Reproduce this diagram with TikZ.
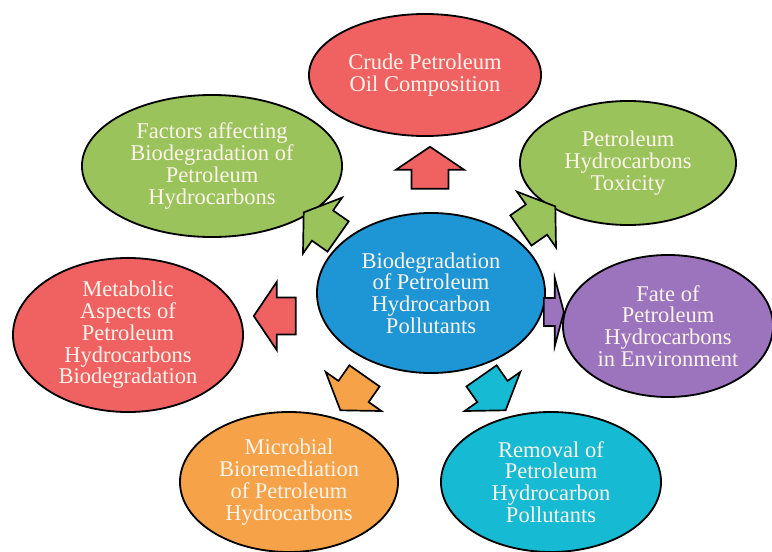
\documentclass[tikz,border=0pt]{standalone}
\usepackage{fontspec}
\setmainfont{Liberation Serif}
\usetikzlibrary{shapes.geometric,shapes.arrows}

\definecolor{bubred}{RGB}{240,98,98}
\definecolor{bubgreen}{RGB}{155,195,92}
\definecolor{bubblue}{RGB}{30,150,214}
\definecolor{bubpurple}{RGB}{156,116,190}
\definecolor{buborange}{RGB}{246,162,72}
\definecolor{bubteal}{RGB}{22,186,210}
\definecolor{txtcol}{RGB}{252,244,234}

\begin{document}
\begin{tikzpicture}[x=0.025cm,y=-0.025cm,
    bubble/.style={ellipse,draw=black,line width=1.3pt,inner sep=0pt,align=center,
        text=txtcol,font=\fontsize{16}{15.5}\selectfont},
    blockarr/.style={single arrow,draw=black,line width=1.2pt,inner xsep=0pt,inner ysep=0.44cm,
        minimum height=1.05cm,minimum width=0pt,single arrow head extend=0.39cm,
        single arrow tip angle=112}]
    \useasboundingbox (0,0) rectangle (772,552);

    % bubbles
    \node[bubble,fill=bubblue,minimum width=5.7cm,minimum height=4cm] (centre) at (431,293)
        {Biodegradation\\of Petroleum\\Hydrocarbon\\Pollutants};
    \node[bubble,fill=bubred,minimum width=5.8cm,minimum height=3.05cm] (crude) at (425,75)
        {Crude Petroleum\\Oil Composition};
    \node[bubble,fill=bubgreen,minimum width=6.5cm,minimum height=3.55cm] (factors) at (212,166)
        {Factors affecting\\Biodegradation of\\Petroleum\\Hydrocarbons};
    \node[bubble,fill=bubgreen,minimum width=5.4cm,minimum height=3.1cm] (toxic) at (628,163)
        {Petroleum\\Hydrocarbons\\Toxicity};
    \node[bubble,fill=bubpurple,minimum width=5.25cm,minimum height=3.55cm] (fate) at (668,326)
        {Fate of\\Petroleum\\Hydrocarbons\\in Environment};
    \node[bubble,fill=bubred,minimum width=5.75cm,minimum height=3.85cm] (metab) at (128,335)
        {Metabolic\\Aspects of\\Petroleum\\Hydrocarbons\\Biodegradation};
    \node[bubble,fill=buborange,minimum width=5.45cm,minimum height=3.5cm] (microb) at (289,482)
        {Microbial\\Bioremediation\\of Petroleum\\Hydrocarbons};
    \node[bubble,fill=bubteal,minimum width=5.5cm,minimum height=3.5cm] (removal) at (551,482)
        {Removal of\\Petroleum\\Hydrocarbon\\Pollutants};

    % block arrows
    \node[blockarr,fill=bubred,rotate=90] (a-crude) at (430,174) {};
    \node[blockarr,fill=bubgreen,rotate=145] (a-factors) at (326,228) {};
    \node[blockarr,fill=bubgreen,rotate=35] (a-toxic) at (533,222) {};
    \node[blockarr,fill=bubpurple,minimum height=0.5cm,inner ysep=0.33cm,
        single arrow head extend=0.5cm,single arrow tip angle=150] (a-fate) at (552,312) {};
    \node[blockarr,fill=bubred,rotate=180] (a-metab) at (281,316) {};
    \node[blockarr,fill=buborange,rotate=235] (a-microb) at (356,388) {};
    \node[blockarr,fill=bubteal,rotate=-55] (a-removal) at (490,388) {};
\end{tikzpicture}
\end{document}
